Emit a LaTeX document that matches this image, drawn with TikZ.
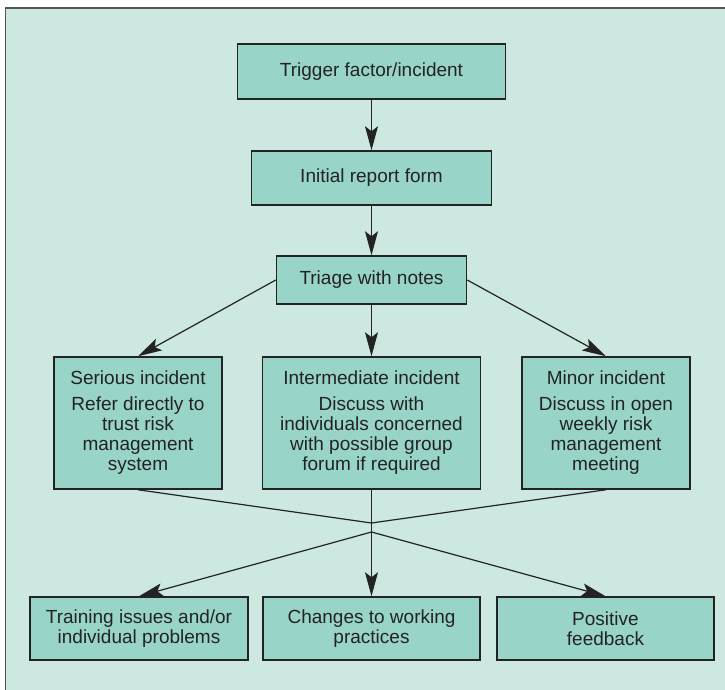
\documentclass[tikz,border=0pt]{standalone}
\usepackage{fontspec}
\setmainfont{Liberation Sans}
\usetikzlibrary{arrows.meta}
\definecolor{panelbg}{RGB}{205,232,224}
\definecolor{boxfill}{RGB}{152,212,200}
\definecolor{inkgray}{RGB}{35,35,35}
\definecolor{framegray}{RGB}{85,85,85}

\begin{document}
\begin{tikzpicture}[x=1pt,y=-1pt,
    every node/.style={font=\fontsize{19}{20}\selectfont, text=inkgray},
    stepbox/.style={draw=inkgray, line width=1.5pt, fill=boxfill, align=center, inner sep=0pt},
    link/.style={draw=inkgray, line width=1.2pt},
    flow/.style={link, -{Stealth[length=24pt,width=13pt,inset=5pt]}}]
          \useasboundingbox (0,0) rectangle (725,690);
          \filldraw[fill=panelbg, draw=framegray, line width=1.2pt] (5.5,8) rectangle (740,700);

          \node[stepbox, minimum width=268pt, minimum height=55pt] (trigger) at (371.5,71.5) {Trigger factor/incident};
          \node[stepbox, minimum width=240pt, minimum height=54pt] (initial) at (371.5,178) {Initial report form};
          \node[stepbox, minimum width=190pt, minimum height=48pt] (triage) at (371.5,280) {Triage with notes};

          \node[stepbox, minimum width=168pt, minimum height=132pt] (serious) at (138,423)
            {Serious incident\\[6pt]Refer directly to\\trust risk\\management\\system};
          \node[stepbox, minimum width=218pt, minimum height=132pt] (intermediate) at (371.5,423)
            {Intermediate incident\\[6pt]Discuss with\\individuals concerned\\with possible group\\forum if required};
          \node[stepbox, minimum width=168pt, minimum height=132pt] (minor) at (606,423)
            {Minor incident\\[6pt]Discuss in open\\weekly risk\\management\\meeting};

          \coordinate (join) at (371.5,523);
          \coordinate (split) at (371.5,532);

          \node[stepbox, minimum width=218pt, minimum height=63pt] (training) at (139,628.5)
            {Training issues and/or\\individual problems};
          \node[stepbox, minimum width=217pt, minimum height=63pt] (changes) at (371.5,628.5)
            {Changes to working\\practices};
          \node[stepbox, minimum width=217pt, minimum height=63pt] (feedback) at (605.5,628.5)
            {Positive\\feedback};

          \draw[flow] (trigger) -- (initial);
          \draw[flow] (initial) -- (triage);
          \draw[flow] (triage.west) -- (serious.north);
          \draw[flow] (triage) -- (intermediate);
          \draw[flow] (triage.east) -- (minor.north);

          \draw[link] (serious.south) -- (join) -- (minor.south);
          \draw[link] (intermediate.south) -- (split);
          \draw[flow] (split) -- (training.north);
          \draw[flow] (split) -- (changes.north);
          \draw[flow] (split) -- (feedback.north);
\end{tikzpicture}
\end{document}
